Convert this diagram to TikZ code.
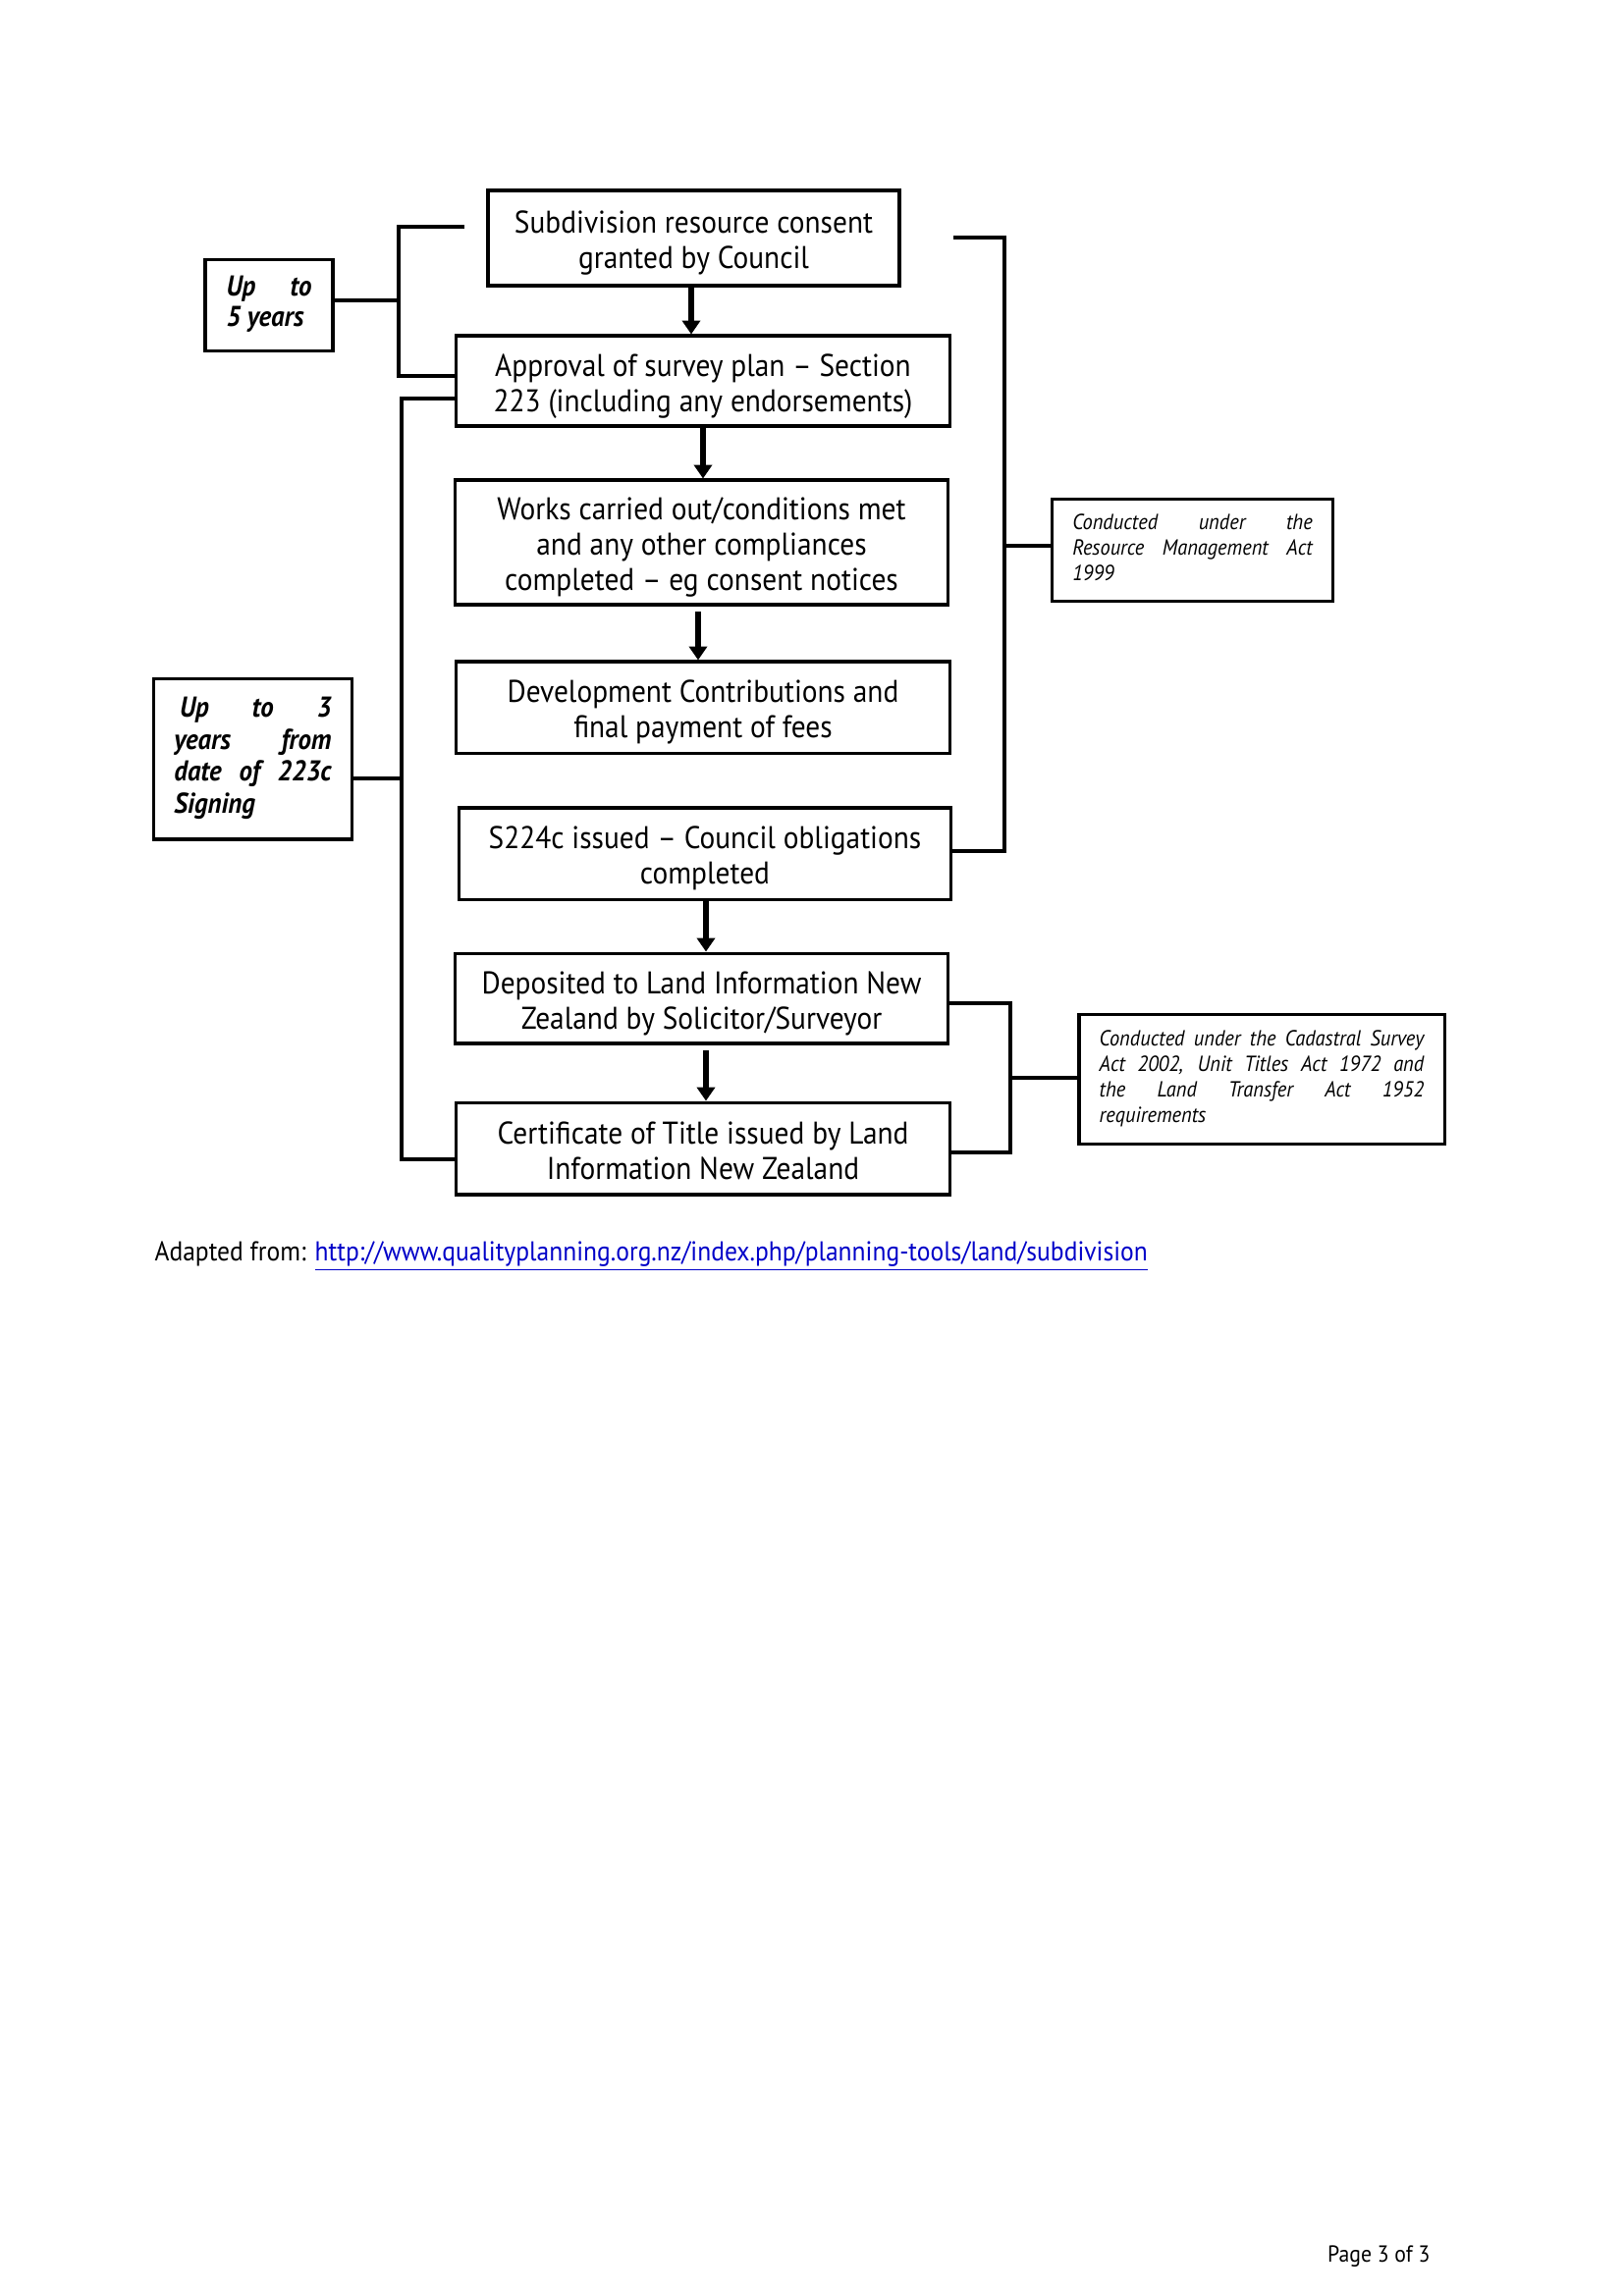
\documentclass[tikz,border=0pt]{standalone}
\usepackage{fontspec}
\setmainfont{PT Sans}[FakeStretch=0.92]
\usetikzlibrary{arrows.meta}
\definecolor{linkblue}{RGB}{0,0,200}
\newcommand\jline[2]{\makebox[#1][s]{#2}}
\newcommand\btext[1]{\raisebox{-2.2pt}[\height][\depth]{\begin{tabular}{@{}c@{}}#1\end{tabular}}}
\begin{document}
\begin{tikzpicture}[x=0.3599pt,y=-0.3599pt,
  mainbox/.style={draw, line width=1.1pt, inner sep=0pt,
    font=\fontsize{11.5}{13}\selectfont},
  sidebox/.style={draw, line width=1.1pt, inner sep=0pt},
  brk/.style={line width=1.6pt, line join=miter},
  arr/.style={line width=2.2pt, -{Triangle[length=5pt,width=6.5pt]}}]
\useasboundingbox (0,0) rectangle (1654,2339);

% main column
\node[mainbox, minimum width=150.8pt, minimum height=34.9pt] (b1) at (706.5,242.5)
  {\btext{Subdivision resource consent\\granted by Council}};
\node[mainbox, minimum width=180.7pt, minimum height=33.1pt] (b2) at (716,388)
  {\btext{Approval of survey plan -- Section\\223 (including any endorsements)}};
\node[mainbox, minimum width=180.4pt, minimum height=45.7pt] (b3) at (714.5,552.5)
  {\btext{Works carried out/conditions met\\and any other compliances\\completed -- eg consent notices}};
\node[mainbox, minimum width=180.7pt, minimum height=33.5pt] (b4) at (716,720.5)
  {\btext{Development Contributions and\\final payment of fees}};
\node[mainbox, minimum width=180pt, minimum height=33.5pt] (b5) at (718,869.5)
  {\btext{S224c issued -- Council obligations\\completed}};
\node[mainbox, minimum width=180.4pt, minimum height=33.1pt] (b6) at (714.5,1017)
  {\btext{Deposited to Land Information New\\Zealand by Solicitor/Surveyor}};
\node[mainbox, minimum width=180.7pt, minimum height=33.8pt] (b7) at (716,1170)
  {\btext{Certificate of Title issued by Land\\Information New Zealand}};

% side boxes
\node[sidebox, minimum width=46.8pt, minimum height=33.8pt,
  font=\fontsize{10.5}{11.3}\selectfont\bfseries\itshape] (y5) at (274,311)
  {\begin{tabular}{@{}l@{}}\jline{31.3pt}{Up to}\\[-0.2pt]5 years\end{tabular}};
\node[sidebox, minimum width=72.4pt, minimum height=59pt,
  font=\fontsize{10.5}{11.7}\selectfont\bfseries\itshape] (y3) at (257.5,773)
  {\raisebox{2pt}{\begin{tabular}{@{}l@{}}\jline{57.6pt}{\hspace{2pt}Up to 3}\\
   \jline{57.6pt}{years from}\\ \jline{57.6pt}{date of 223c}\\ Signing\end{tabular}}};
\node[sidebox, minimum width=102.6pt, minimum height=37.1pt,
  font=\fontsize{8}{9.4}\selectfont\itshape] (rma) at (1214.5,560.5)
  {\begin{tabular}{@{}l@{}}\jline{88pt}{Conducted under the}\\
   \jline{88pt}{Resource Management Act}\\ 1999\end{tabular}};
\node[sidebox, minimum width=133.9pt, minimum height=47.2pt,
  font=\fontsize{8}{9.4}\selectfont\itshape] (cad) at (1285,1099.5)
  {\begin{tabular}{@{}l@{}}\jline{119pt}{Conducted under the Cadastral Survey}\\
   \jline{119pt}{Act 2002, Unit Titles Act 1972 and}\\
   \jline{119pt}{the Land Transfer Act 1952}\\ requirements\end{tabular}};

% arrows
\draw[arr] (b1.south -| 704,0) -- (b2.north -| 704,0);
\draw[arr] (b2.south -| 716,0) -- (b3.north -| 716,0);
\draw[arr] ([yshift=-2pt]b3.south -| 711,0) -- (b4.north -| 711,0);
\draw[arr] (b5.south -| 719,0) -- (b6.north -| 719,0);
\draw[arr] ([yshift=-2pt]b6.south -| 719,0) -- (b7.north -| 719,0);

% brackets
\coordinate (t5) at (473,231);
\coordinate (trma) at (971,242);
\draw[brk] (t5) -| (406,383) -- (b2.west |- 0,383);
\draw[brk] (y5.east |- 0,306) -- (406,306);
\draw[brk] (b2.west |- 0,406) -| (409,1181) -- (b7.west |- 0,1181);
\draw[brk] (y3.east |- 0,793) -- (409,793);
\draw[brk] (trma) -| (1023,867) -- (b5.east |- 0,867);
\draw[brk] (1023,556) -- (rma.west |- 0,556);
\draw[brk] (b6.east |- 0,1022) -| (1029,1174) -- (b7.east |- 0,1174);
\draw[brk] (1029,1098) -- (cad.west |- 0,1098);

% footer
\node[anchor=base west, inner sep=0pt, font=\fontsize{10}{12}\selectfont] (foot) at (157,1284)
  {Adapted from: \textcolor{linkblue}{\underline{http://www.qualityplanning.org.nz/index.php/planning-tools/land/subdivision}}};
\node[anchor=base east, inner sep=0pt, font=\fontsize{8.5}{10}\selectfont] (pg) at (1457,2304)
  {Page 3 of 3};
\end{tikzpicture}
\end{document}
